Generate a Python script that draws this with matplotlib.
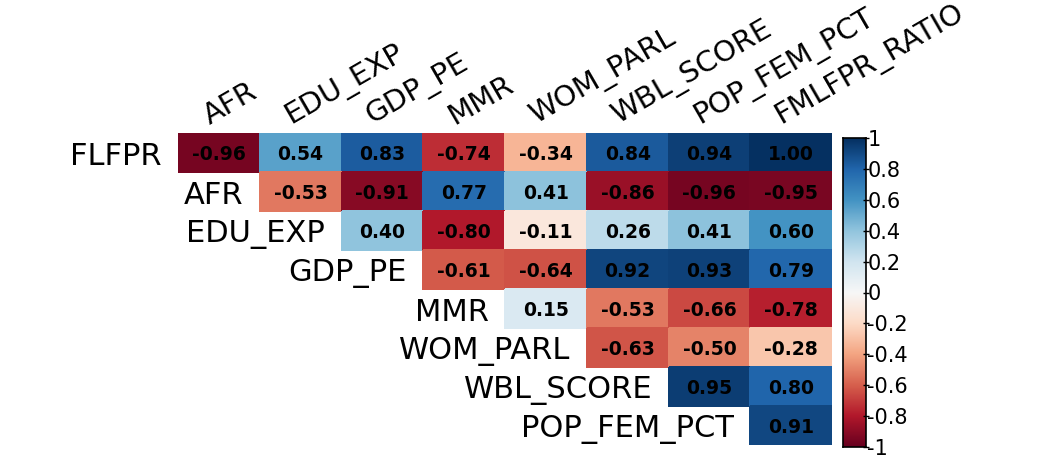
import numpy as np
import matplotlib
matplotlib.use("Agg")
import matplotlib.pyplot as plt
from matplotlib.colors import Normalize

row_labels = ["FLFPR", "AFR", "EDU_EXP", "GDP_PE", "MMR", "WOM_PARL", "WBL_SCORE", "POP_FEM_PCT"]
col_labels = ["AFR", "EDU_EXP", "GDP_PE", "MMR", "WOM_PARL", "WBL_SCORE", "POP_FEM_PCT", "FMLFPR_RATIO"]

r_flfpr = [-0.96, 0.54, 0.83, -0.74, -0.34, 0.84, 0.94, 1.00]
r_afr = [-0.53, -0.91, 0.77, 0.41, -0.86, -0.96, -0.95]
r_edu = [0.40, -0.80, -0.11, 0.26, 0.41, 0.60]
r_gdp = [-0.61, -0.64, 0.92, 0.93, 0.79]
r_mmr = [0.15, -0.53, -0.66, -0.78]
r_wom = [-0.63, -0.50, -0.28]
r_wbl = [0.95, 0.80]
r_pop = [0.91]
rows = [r_flfpr, r_afr, r_edu, r_gdp, r_mmr, r_wom, r_wbl, r_pop]

cbar_ticks = [-1, -0.8, -0.6, -0.4, -0.2, 0, 0.2, 0.4, 0.6, 0.8, 1]

n = len(row_labels)
M = np.full((n, n), np.nan)
for i, vals in enumerate(rows):
    M[i, i:i + len(vals)] = vals

W, H = 1046, 457
fig = plt.figure(figsize=(W / 100, H / 100), dpi=100)
ax = fig.add_axes([178 / W, 1 - 445 / H, (832 - 178) / W, (445 - 133) / H])
cmap = plt.get_cmap("RdBu")
norm = Normalize(-1, 1)
Mm = np.ma.masked_invalid(M)
ax.pcolormesh(np.arange(n + 1), np.arange(n + 1), Mm, cmap=cmap, norm=norm,
              edgecolors="face", linewidth=0.2)
ax.set_xlim(0, n)
ax.set_ylim(n, 0)
ax.axis("off")

for i in range(n):
    for j in range(n):
        if not np.isnan(M[i, j]):
            ax.text(j + 0.5, i + 0.54, f"{M[i, j]:.2f}", ha="center", va="center",
                    fontsize=13.5, fontweight="bold", family="DejaVu Sans", color="black")

for i, lab in enumerate(row_labels):
    ax.text(i - 0.2, i + 0.6, lab, ha="right", va="center", fontsize=22,
            family="DejaVu Sans", color="black", clip_on=False)

for j, lab in enumerate(col_labels):
    ax.text(j + 0.42, -0.08, lab, ha="left", va="bottom", fontsize=21, rotation=30,
            rotation_mode="anchor", family="DejaVu Sans", color="black", clip_on=False)

cax = fig.add_axes([843 / W, 1 - 447 / H, 23 / W, 309 / H])
grad = np.linspace(-1, 1, 256).reshape(-1, 1)
cax.imshow(grad, aspect="auto", cmap=cmap, norm=norm, origin="lower", extent=[0, 1, -1, 1])
cax.set_xticks([])
cax.yaxis.tick_right()
cax.set_yticks(cbar_ticks)
cax.set_yticklabels([f"{t:g}" for t in cbar_ticks], fontsize=15, family="DejaVu Sans")
cax.tick_params(axis="y", length=4, width=1, pad=-1, direction="inout")
for s in cax.spines.values():
    s.set_linewidth(1.2)
    s.set_color("black")

fig.savefig("out.png", dpi=100)
